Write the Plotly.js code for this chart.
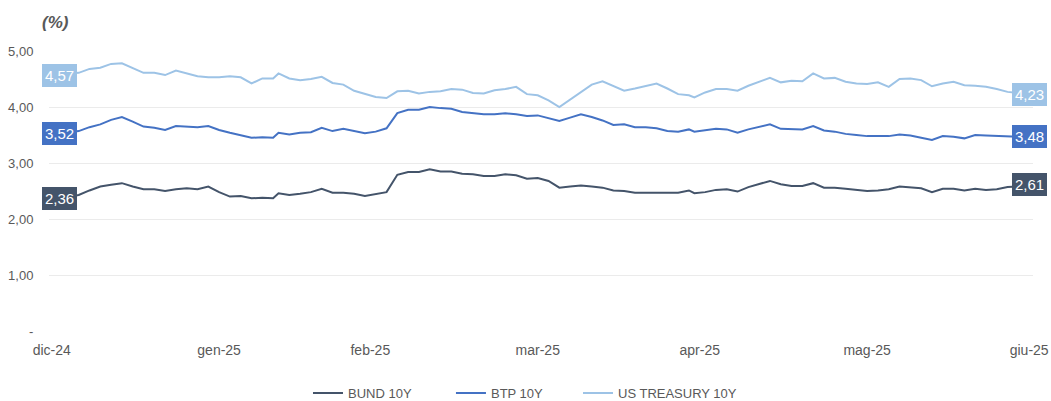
<!DOCTYPE html>
<html><head><meta charset="utf-8">
<script src="https://cdn.plot.ly/plotly-3.0.1.min.js"></script>
<style>html,body{margin:0;padding:0;background:#fff}#chart{width:1051px;height:401px}</style>
</head><body><div id="chart"></div>
<script>
const dates = ['2025-01-01','2025-01-03','2025-01-05','2025-01-07','2025-01-09','2025-01-11','2025-01-13','2025-01-15','2025-01-17','2025-01-19','2025-01-21','2025-01-23','2025-01-25','2025-01-27','2025-01-29','2025-01-31',
'2025-02-02','2025-02-04','2025-02-06','2025-02-08','2025-02-10','2025-02-11','2025-02-13','2025-02-15','2025-02-17','2025-02-19','2025-02-21','2025-02-23','2025-02-25','2025-02-27',
'2025-03-01','2025-03-03','2025-03-05','2025-03-07','2025-03-09','2025-03-11','2025-03-13','2025-03-15','2025-03-17','2025-03-19','2025-03-21','2025-03-23','2025-03-25','2025-03-27','2025-03-29','2025-03-31',
'2025-04-02','2025-04-04','2025-04-06','2025-04-08','2025-04-10','2025-04-12','2025-04-14','2025-04-16','2025-04-18','2025-04-20','2025-04-22','2025-04-24','2025-04-26','2025-04-28','2025-04-29',
'2025-05-01','2025-05-03','2025-05-05','2025-05-07','2025-05-09','2025-05-11','2025-05-13','2025-05-15','2025-05-17','2025-05-19','2025-05-21','2025-05-23','2025-05-25','2025-05-27','2025-05-29','2025-05-31',
'2025-06-02','2025-06-04','2025-06-06','2025-06-08','2025-06-10','2025-06-12','2025-06-14','2025-06-16','2025-06-18','2025-06-20','2025-06-22','2025-06-24','2025-06-26','2025-06-28','2025-06-30'];

const bund10y = [2.36,2.40,2.43,2.51,2.58,2.61,2.64,2.58,2.53,2.53,
2.50,2.53,2.55,2.53,2.58,2.48,2.40,2.41,2.37,2.38,
2.37,2.46,2.43,2.45,2.48,2.54,2.47,2.47,2.45,2.41,
2.44,2.48,2.79,2.84,2.84,2.89,2.85,2.85,2.81,2.80,
2.77,2.77,2.80,2.78,2.72,2.73,2.68,2.56,2.58,2.60,
2.58,2.56,2.51,2.50,2.47,2.47,2.46,2.47,2.47,2.51,
2.46,2.48,2.52,2.53,2.49,2.57,2.63,2.68,2.62,2.59,
2.59,2.64,2.56,2.56,2.54,2.52,2.50,2.51,2.53,2.58,
2.57,2.55,2.48,2.54,2.54,2.51,2.54,2.52,2.53,2.57,
2.58,2.61];

const btp10y = [3.52,3.55,3.57,3.64,3.69,3.77,3.82,3.74,3.65,3.63,
3.59,3.66,3.65,3.64,3.66,3.59,3.54,3.50,3.45,3.46,
3.45,3.54,3.51,3.54,3.55,3.63,3.57,3.61,3.57,3.53,
3.56,3.62,3.89,3.95,3.95,4.00,3.98,3.97,3.91,3.89,
3.87,3.87,3.89,3.87,3.84,3.85,3.80,3.75,3.81,3.87,
3.82,3.76,3.68,3.69,3.64,3.64,3.62,3.57,3.56,3.60,
3.56,3.59,3.61,3.60,3.54,3.60,3.65,3.69,3.61,3.60,
3.60,3.66,3.58,3.56,3.52,3.50,3.48,3.48,3.48,3.51,
3.49,3.45,3.41,3.48,3.47,3.44,3.50,3.49,3.48,3.47,
3.47,3.48];

const ust10y = [4.57,4.60,4.61,4.68,4.70,4.77,4.78,4.70,4.61,4.61,
4.57,4.65,4.60,4.55,4.53,4.53,4.55,4.53,4.42,4.51,
4.51,4.60,4.51,4.48,4.50,4.54,4.43,4.40,4.29,4.24,
4.18,4.16,4.28,4.29,4.24,4.27,4.28,4.32,4.31,4.25,
4.24,4.30,4.32,4.36,4.23,4.21,4.12,4.00,4.13,4.26,
4.40,4.46,4.37,4.29,4.33,4.37,4.42,4.33,4.23,4.21,
4.17,4.26,4.32,4.32,4.29,4.38,4.45,4.52,4.44,4.47,
4.46,4.60,4.51,4.52,4.45,4.42,4.41,4.44,4.36,4.50,
4.51,4.48,4.37,4.42,4.45,4.39,4.38,4.36,4.32,4.27,
4.25,4.23];

const seriesNames = ['BUND 10Y', 'BTP 10Y', 'US TREASURY 10Y'];
const tickDates = ['2024-12-31','2025-01-31','2025-02-28','2025-03-31','2025-04-30','2025-05-31','2025-06-30'];
const tickLabels = ['dic-24','gen-25','feb-25','mar-25','apr-25','mag-25','giu-25'];
const yTickVals = [0, 1, 2, 3, 4, 5];
const yTickLabels = ['-', '1,00', '2,00', '3,00', '4,00', '5,00'];
const unitLabel = '(%)';

const seriesValues = [bund10y, btp10y, ust10y];
const seriesColors = ['#44546A', '#4472C4', '#9DC3E6'];
const legendIds = ['legend', 'legend2', 'legend3'];
const legendX = [0.2632, 0.4085, 0.5376];
const FONT = '"Liberation Sans", Arial, sans-serif';
const GREY = '#595959';

const traces = seriesValues.map((vals, i) => ({
  type: 'scatter', mode: 'lines', x: dates, y: vals, name: seriesNames[i],
  legend: legendIds[i],
  line: {color: seriesColors[i], width: 2}, hoverinfo: 'skip'
}));

const fmt = v => v.toFixed(2).replace('.', ',');
const annotations = [];
seriesValues.forEach((vals, i) => {
  [0, vals.length - 1].forEach(k => {
    annotations.push({
      x: dates[k], y: vals[k], xref: 'x', yref: 'y', text: fmt(vals[k]),
      showarrow: false, xanchor: 'center', yanchor: 'middle', xshift: k === 0 ? 2 : 0,
      bgcolor: seriesColors[i], bordercolor: seriesColors[i], borderwidth: 1, borderpad: 2,
      font: {family: FONT, size: 15, color: '#ffffff'}
    });
  });
});
annotations.push({
  xref: 'paper', yref: 'paper', x: -0.009, y: 1.1, xanchor: 'left', yanchor: 'middle',
  text: '<b><i>' + unitLabel + '</i></b>', showarrow: false,
  font: {family: FONT, size: 17, color: GREY}
});

const layout = {
  width: 1051, height: 401,
  margin: {l: 49, r: 18, t: 51, b: 70, pad: 0, autoexpand: false},
  paper_bgcolor: '#ffffff', plot_bgcolor: '#ffffff',
  font: {family: FONT, color: GREY},
  xaxis: {
    type: 'date', range: ['2024-12-30 12:00', '2025-06-30 17:00'],
    tickmode: 'array', tickvals: tickDates, ticktext: tickLabels,
    showgrid: false, zeroline: false, showline: false,
    ticks: 'outside', ticklen: 6, tickcolor: 'rgba(0,0,0,0)',
    tickfont: {family: FONT, size: 14, color: GREY}
  },
  yaxis: {
    range: [0, 5], tickmode: 'array', tickvals: yTickVals, ticktext: yTickLabels,
    showgrid: true, gridcolor: '#ebebeb', gridwidth: 1, zeroline: false, showline: false,
    ticks: 'outside', ticklen: 12, tickcolor: 'rgba(0,0,0,0)',
    tickfont: {family: FONT, size: 13, color: GREY}
  },
  showlegend: true,
  annotations: annotations
};
legendIds.forEach((id, i) => {
  layout[id] = {
    orientation: 'h', x: legendX[i], xanchor: 'left', y: -0.222, yanchor: 'middle',
    font: {family: FONT, size: 13, color: GREY}, bgcolor: 'rgba(0,0,0,0)'
  };
});

Plotly.newPlot('chart', traces, layout, {displayModeBar: false, staticPlot: true});
</script>
</body></html>
